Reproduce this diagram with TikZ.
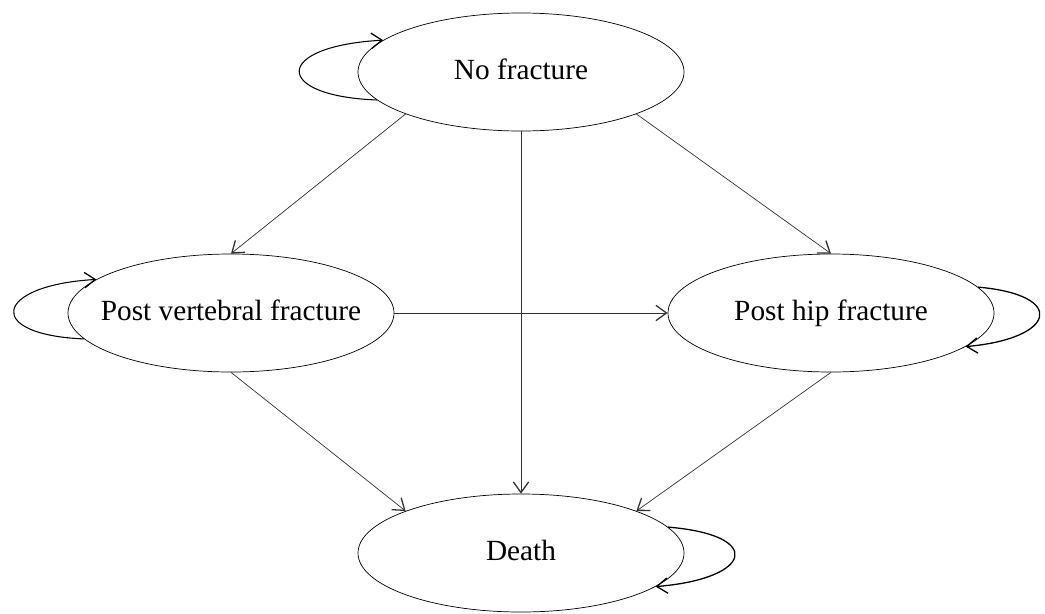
\documentclass[tikz,border=0pt]{standalone}
\usepackage{fontspec}
\setmainfont{Liberation Serif}
\usetikzlibrary{arrows.meta,shapes.geometric}
\begin{document}
\begin{tikzpicture}[x=0.03cm, y=-0.03cm, >={Straight Barb[length=3.2mm,width=4.6mm,line width=1.1pt]},
  state/.style={draw, ellipse, line width=0.6pt, minimum width=9.78cm, minimum height=3.54cm, inner xsep=-0.7cm, inner ysep=0pt, text height=17pt, text depth=5pt, font=\fontsize{25}{30}\selectfont},
  trans/.style={->, line width=0.6pt, draw=black!80},
  selfloop/.style={->, line width=0.9pt}]
\useasboundingbox (0,0) rectangle (1045,613);
\node[state] (nf) at (521,72) {No fracture};
\node[state] (pv) at (231,313) {Post vertebral fracture};
\node[state] (ph) at (831,313) {Post hip fracture};
\node[state] (d) at (521,553) {Death};
\draw[trans] (nf.200) -- (pv.north);
\draw[trans] (nf.340) -- (ph.north);
\draw[trans] (nf.south) -- (d.north);
\draw[trans] (pv.east) -- (ph.west);
\draw[trans] (pv.south) -- (d.160);
\draw[trans] (ph.south) -- (d.20);
\draw[selfloop] (nf.191) .. controls +(-105,-4) and +(-110,6) .. (nf.167);
\draw[selfloop] (pv.190) .. controls +(-100,-4) and +(-103,6) .. (pv.166);
\draw[selfloop, line width=1.1pt] (ph.10) .. controls +(90,8) and +(90,-8) .. (ph.346);
\draw[selfloop, line width=1.1pt] (d.10) .. controls +(97,8) and +(97,-8) .. (d.346);
\end{tikzpicture}
\end{document}
